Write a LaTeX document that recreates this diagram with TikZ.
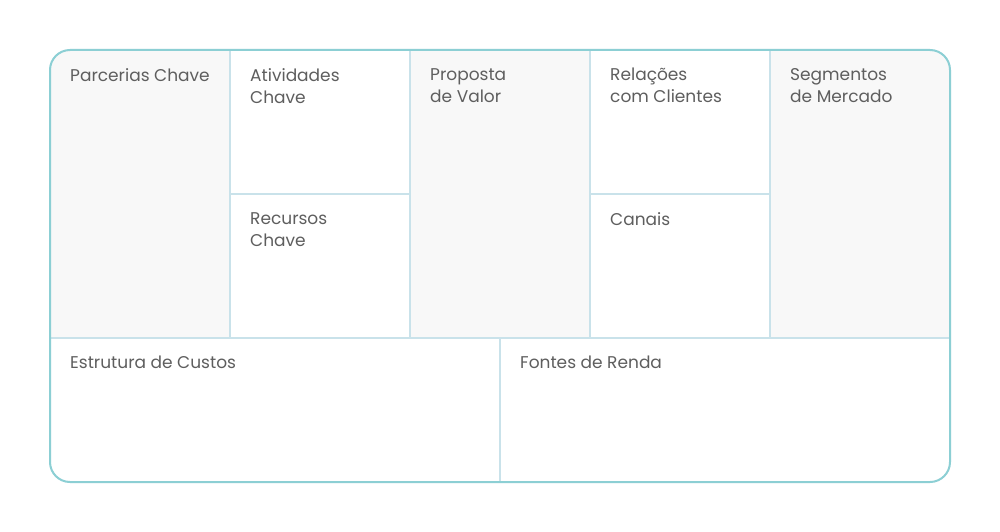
\documentclass[tikz,border=0pt]{standalone}
\usepackage{fontspec}
\setmainfont{Poppins}
\definecolor{outer}{HTML}{8CCFD4}
\definecolor{inner}{HTML}{C9E2EA}
\definecolor{cellgray}{HTML}{F8F8F8}
\definecolor{txt}{HTML}{5E5E5E}
\begin{document}
\begin{tikzpicture}[x=1pt,y=-1pt,
  lbl/.style={anchor=north west,inner sep=0pt,text=txt,font=\fontsize{17}{22}\selectfont,align=left},
  innerline/.style={draw=inner,line width=1.5pt},
  outerline/.style={draw=outer,line width=2pt,rounded corners=20pt}]
\useasboundingbox (0,0) rectangle (1000,532);
\fill[white] (0,0) rectangle (1000,532);
% gray cells
\begin{scope}
\clip[rounded corners=20pt] (50,50) rectangle (950,482);
\fill[cellgray] (50,50) rectangle (230,338);
\fill[cellgray] (410,50) rectangle (590,338);
\fill[cellgray] (770,50) rectangle (950,338);
\end{scope}
% inner lines
\coordinate (c1t) at (230,50); \coordinate (c1b) at (230,338);
\coordinate (c2t) at (410,50); \coordinate (c2b) at (410,338);
\coordinate (c3t) at (590,50); \coordinate (c3b) at (590,338);
\coordinate (c4t) at (770,50); \coordinate (c4b) at (770,338);
\coordinate (hl) at (50,338); \coordinate (hr) at (950,338);
\coordinate (m1l) at (230,194); \coordinate (m1r) at (410,194);
\coordinate (m2l) at (590,194); \coordinate (m2r) at (770,194);
\coordinate (bt) at (500,338); \coordinate (bb) at (500,482);
\path[innerline] (c1t) -- (c1b) (c2t) -- (c2b) (c3t) -- (c3b) (c4t) -- (c4b)
  (hl) -- (hr) (m1l) -- (m1r) (m2l) -- (m2r) (bt) -- (bb);
\path[outerline] (50,50) rectangle (950,482);
% labels
\node[lbl] (parc) at (70,68) {Parcerias Chave};
\node[lbl] (ativ) at (250,68) {Atividades\\Chave};
\node[lbl] (prop) at (430,68) {Proposta\\de Valor};
\node[lbl] (rel) at (610,68) {Relações\\com Clientes};
\node[lbl] (seg) at (790,68) {Segmentos\\de Mercado};
\node[lbl] (rec) at (250,212) {Recursos\\Chave};
\node[lbl] (can) at (610,212) {Canais};
\node[lbl] (est) at (70,356) {Estrutura de Custos};
\node[lbl] (font) at (520,356) {Fontes de Renda};
\end{tikzpicture}
\end{document}
